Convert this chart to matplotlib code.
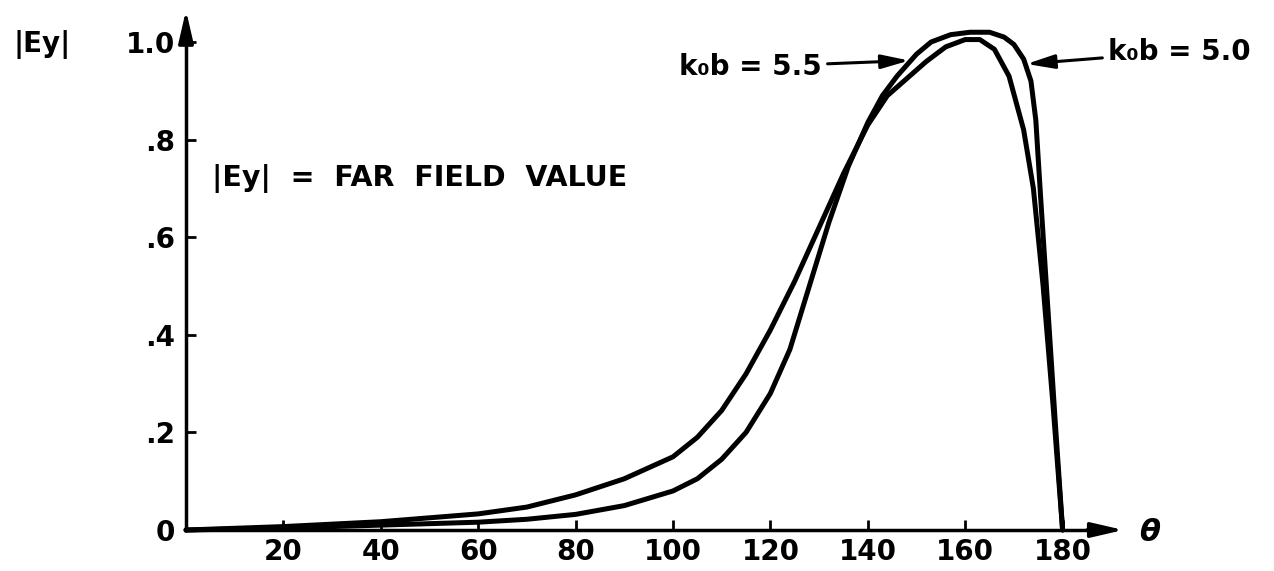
import matplotlib.pyplot as plt

# far field |Ey| vs theta
theta_55 = [0, 20, 40, 60, 70, 80, 90, 100, 105, 110, 115, 120, 125, 130, 135,
            140, 144, 148, 152, 156, 160, 163, 166, 169, 172, 174, 176, 178, 180]
eyl_55 = [0, 0.007, 0.017, 0.033, 0.047, 0.072, 0.105, 0.15, 0.19, 0.245, 0.32,
          0.41, 0.51, 0.62, 0.73, 0.83, 0.89, 0.925, 0.96, 0.99, 1.005, 1.005,
          0.985, 0.93, 0.82, 0.70, 0.50, 0.26, 0.0]

theta_50 = [0, 20, 40, 60, 70, 80, 90, 100, 105, 110, 115, 120, 124, 128, 132,
            136, 140, 143, 146, 150, 153, 157, 161, 165, 168, 170, 172, 173.5,
            174.5, 175.5, 177, 178.5, 180]
eyl_50 = [0, 0.004, 0.01, 0.016, 0.022, 0.032, 0.05, 0.08, 0.105, 0.145, 0.2,
          0.28, 0.37, 0.50, 0.63, 0.745, 0.835, 0.89, 0.93, 0.975, 1.0, 1.015,
          1.02, 1.02, 1.01, 0.995, 0.965, 0.92, 0.84, 0.68, 0.45, 0.22, 0.0]

x_ticks = [20, 40, 60, 80, 100, 120, 140, 160, 180]
y_ticks = [0, 0.2, 0.4, 0.6, 0.8, 1.0]
y_tick_labels = ['0', '.2', '.4', '.6', '.8', '1.0']

plt.rcParams['font.family'] = 'DejaVu Sans'
plt.rcParams['font.weight'] = 'bold'

fig = plt.figure(figsize=(12.74, 5.71), dpi=100)
ax = fig.add_axes([0, 0, 1, 1])

# pixel scale of the original drawing
px = 4.87
py = 488
ax.set_xlim(-186 / px, (1274 - 186) / px)
ax.set_ylim(-41 / py, (571 - 41) / py)

for s in ['top', 'right']:
    ax.spines[s].set_visible(False)
ax.spines['left'].set_position(('data', 0))
ax.spines['bottom'].set_position(('data', 0))
ax.spines['left'].set_bounds(0, 1.04)
ax.spines['bottom'].set_bounds(0, 188)
ax.spines['left'].set_linewidth(2.5)
ax.spines['bottom'].set_linewidth(2.5)

ax.set_xticks(x_ticks)
ax.set_xticklabels([str(t) for t in x_ticks])
ax.set_yticks(y_ticks)
ax.set_yticklabels(y_tick_labels)
ax.tick_params(axis='x', direction='in', length=7, width=2, pad=6, labelsize=20)
ax.tick_params(axis='y', direction='in', length=7, width=2, pad=8, labelsize=20)

# axis arrowheads
arrow = dict(arrowstyle='-|>,head_length=1.3,head_width=0.3', color='black',
             lw=2.5, mutation_scale=15, shrinkA=0, shrinkB=0)
ax.annotate('', xy=(192.5, 0), xytext=(185, 0), arrowprops=arrow)
ax.annotate('', xy=(0, 1.065), xytext=(0, 1.02), arrowprops=arrow)

ax.plot(theta_55, eyl_55, color='black', lw=3.6,
        solid_joinstyle='round', solid_capstyle='round', clip_on=False)
ax.plot(theta_50, eyl_50, color='black', lw=3.6,
        solid_joinstyle='round', solid_capstyle='round', clip_on=False)

ax.text(-29.6, 0.995, '|Ey|', fontsize=20, fontweight='bold', ha='center', va='center')
ax.text(5.3, 0.72, '|Ey|  =  FAR  FIELD  VALUE', fontsize=20.5, fontweight='bold',
        ha='left', va='center')
ax.text(197.9, -0.005, 'θ', fontsize=22, fontstyle='italic', fontweight='bold',
        ha='center', va='center')

leader = dict(arrowstyle='-|>,head_length=1.2,head_width=0.3', color='black',
              lw=2.2, mutation_scale=14, shrinkA=2, shrinkB=0)
ax.annotate('k₀b = 5.5', xy=(148.5, 0.962), xytext=(130.6, 0.949),
            fontsize=20, fontweight='bold', ha='right', va='center',
            arrowprops=leader)
ax.annotate('k₀b = 5.0', xy=(172.6, 0.955), xytext=(189.3, 0.98),
            fontsize=20, fontweight='bold', ha='left', va='center',
            arrowprops=leader)

fig.savefig('out.png', dpi=100)
